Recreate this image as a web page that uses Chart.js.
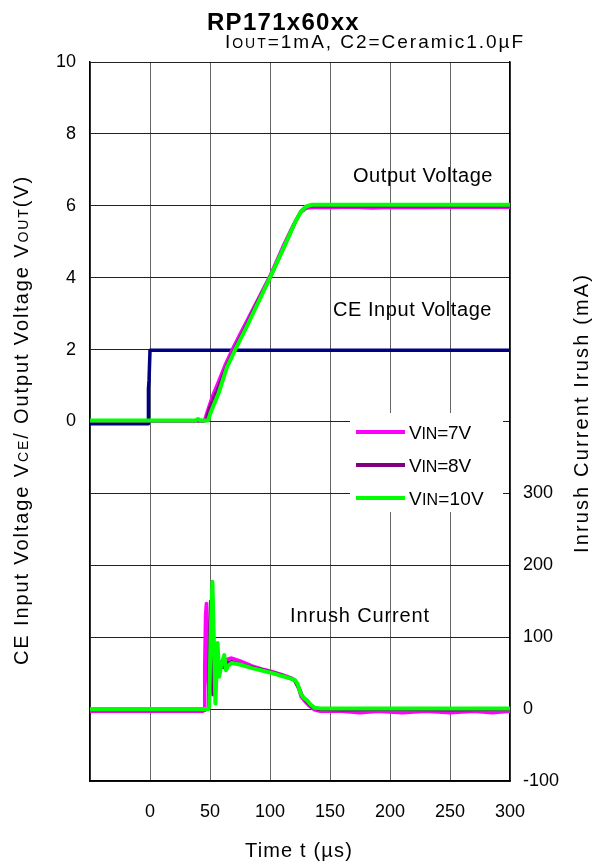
<!DOCTYPE html>
<html>
<head>
<meta charset="utf-8">
<script src="https://cdn.jsdelivr.net/npm/chart.js@4.4.1/dist/chart.umd.min.js"></script>
<style>
  html, body { margin: 0; padding: 0; background: #fff; }
  #wrap { width: 597px; height: 863px; }
</style>
</head>
<body>
<div id="wrap"><canvas id="chart" width="597" height="863"></canvas></div>
<script>
// time axis (us)
const timeMin = -50, timeMax = 300, timeStep = 50;
// left axis (V), right axis (mA)
const voltMin = -10, voltMax = 10, voltStep = 2;
const currMin = -100, currMax = 900, currStep = 100;
const currLabelMax = 300;

// CE input voltage
const ceTime = [-50, -1.5, -1.3, -0.8, 0, 300];
const ceVolt = [-0.06, -0.06, 0.9, 1.15, 1.98, 1.98];

// output voltage, VIN=7V / 8V / 10V
const vout7Time = [-50, 44, 45.6, 48, 52, 57, 63, 70, 80, 90, 100, 112, 120, 125, 130, 136, 150, 170, 185, 200, 230, 260, 300];
const vout7 = [0.02, 0.02, 0.05, 0.3, 0.7, 1.1, 1.6, 2.1, 2.75, 3.4, 4.05, 4.95, 5.5, 5.8, 5.93, 5.96, 5.95, 5.97, 5.94, 5.96, 5.95, 5.97, 5.96];
const vout8Time = [-50, 46, 47, 49, 53, 57, 64, 71, 80, 90, 100, 113, 121, 126, 130, 135, 300];
const vout8 = [0.02, 0.02, 0.05, 0.3, 0.65, 0.95, 1.55, 2.05, 2.65, 3.35, 4.0, 4.95, 5.55, 5.85, 5.97, 6.0, 6.0];
const vout10Time = [-50, 38, 40, 42, 48.5, 50, 53, 57, 64, 71, 80, 90, 100, 113, 121, 126, 130, 135, 300];
const vout10 = [0.03, 0.03, 0.07, 0.03, 0.03, 0.2, 0.45, 0.77, 1.5, 2.0, 2.6, 3.3, 4.0, 4.95, 5.55, 5.85, 5.98, 6.03, 6.03];

// inrush current (mA), VIN=7V / 8V / 10V
const irush7Time = [-50, 44, 45, 45.6, 46.3, 47, 47.8, 48.5, 49.5, 50.5, 51.5, 53, 55, 58, 62, 68, 75, 85, 95, 102, 110, 118, 121, 124, 126, 129, 133, 137, 142, 160, 175, 190, 210, 230, 250, 270, 285, 300];
const irush7 = [-3, -3, -2, 60, 130, 147, 100, 40, 20, 55, 70, 50, 62, 60, 68, 71, 67, 60, 55, 52, 48, 43, 39, 28, 17, 11, 4, -1, -3, -3, -5, -3, -5, -3, -5, -3, -5, -3];
const irush8Time = [-50, 47.5, 48.8, 49.8, 50.5, 51.5, 52.5, 53.5, 54.5, 56, 57.5, 59, 61, 64, 68, 80, 95, 110, 120, 124, 127, 131, 135, 140, 160, 200, 250, 300];
const irush8 = [0, 0, 2, 100, 150, 90, 20, 60, 50, 72, 52, 66, 58, 64, 66, 60, 54, 47, 41, 30, 18, 10, 3, 0, -1, 0, -1, 0];
const irush10Time = [-50, 48.5, 49.3, 50.5, 52, 53, 54.5, 56.3, 57.7, 59.5, 61.9, 63.3, 65, 68, 75, 85, 95, 102, 110, 118, 121, 123, 125.5, 128, 131, 134, 137, 142, 160, 200, 250, 300];
const irush10 = [0, 0, 3, 100, 177, 110, 8, 92, 45, 62, 75, 54, 60, 64, 62, 57, 53, 50, 46, 42, 40, 35, 22, 16, 12, 6, 2, 1, 1, 1, 1, 1];

const FONT = '"Liberation Sans", Arial, sans-serif';

function pts(xs, ys) {
    return xs.map((x, i) => ({ x: x, y: ys[i] }));
}

function lineSet(label, xs, ys, color, width, axis) {
    return {
        label: label,
        data: pts(xs, ys),
        yAxisID: axis,
        borderColor: color,
        backgroundColor: color,
        borderWidth: width,
        pointRadius: 0,
        tension: 0,
        borderJoinStyle: 'round',
        borderCapStyle: 'round',
        fill: false
    };
}

// text with mixed sizes, optionally stretched to a given width
function richText(ctx, parts, x, y, opts) {
    const setFont = p => { ctx.font = (p[2] || 'normal') + ' ' + p[1] + 'px ' + FONT; };
    ctx.letterSpacing = '0px';
    let natural = 0, chars = 0;
    parts.forEach(p => { setFont(p); natural += ctx.measureText(p[0]).width; chars += p[0].length; });
    const sp = opts.width ? Math.max(-1, (opts.width - natural) / chars) : 0;
    const total = natural + sp * chars;
    let cx = opts.align === 'center' ? x - total / 2 : (opts.align === 'right' ? x - total : x);
    ctx.textAlign = 'left';
    ctx.textBaseline = 'alphabetic';
    ctx.fillStyle = '#000';
    parts.forEach(p => {
        setFont(p);
        ctx.letterSpacing = '0px';
        const w = ctx.measureText(p[0]).width;
        ctx.letterSpacing = sp + 'px';
        ctx.fillText(p[0], cx, y);
        cx += w + sp * p[0].length;
    });
    ctx.letterSpacing = '0px';
}

const textPlugin = {
    id: 'textPlugin',
    afterDraw(chart) {
        const ctx = chart.ctx;
        ctx.save();

        // title + subtitle
        richText(ctx, [['RP171x60xx', 24, 'bold']], 207, 30, { width: 153 });
        richText(ctx, [['I', 19], ['OUT', 14], ['=1mA, C2=Ceramic1.0\u00b5F', 19]], 225, 48, { width: 300 });

        // curve labels
        richText(ctx, [['Output Voltage', 20]], 353, 182, { width: 140 });
        richText(ctx, [['CE Input Voltage', 20]], 333, 316, { width: 159 });
        richText(ctx, [['Inrush Current', 20]], 290, 622, { width: 140 });

        // axis titles
        richText(ctx, [['Time t (\u00b5s)', 20]], 245, 857, { width: 108 });

        ctx.save();
        ctx.translate(28, 420);
        ctx.rotate(-Math.PI / 2);
        richText(ctx, [['CE Input Voltage V', 20], ['CE', 14], ['/ Output Voltage V', 20], ['OUT', 14], ['(V)', 20]], 0, 0, { align: 'center', width: 490 });
        ctx.restore();

        ctx.save();
        ctx.translate(588, 413);
        ctx.rotate(-Math.PI / 2);
        richText(ctx, [['Inrush Current Irush (mA)', 20]], 0, 0, { align: 'center', width: 280 });
        ctx.restore();

        // legend box
        ctx.fillStyle = '#fff';
        ctx.fillRect(350, 413, 153, 99);
        const legendRows = [
            { color: '#ff00ff', parts: [['V', 19], ['IN', 16], ['=7V', 19]], w: 62 },
            { color: '#800080', parts: [['V', 19], ['IN', 16], ['=8V', 19]], w: 62 },
            { color: '#00ff00', parts: [['V', 19], ['IN', 16], ['=10V', 19]], w: 75 }
        ];
        legendRows.forEach((row, i) => {
            const y = 432 + i * 33;
            ctx.strokeStyle = row.color;
            ctx.lineWidth = 4;
            ctx.beginPath();
            ctx.moveTo(356, y);
            ctx.lineTo(405, y);
            ctx.stroke();
            richText(ctx, row.parts, 409, y + 7, { width: row.w });
        });

        ctx.restore();
    }
};

Chart.defaults.font.family = FONT;
Chart.defaults.font.size = 18;
Chart.defaults.color = '#000';

new Chart(document.getElementById('chart'), {
    type: 'line',
    data: {
        datasets: [
            lineSet('VIN=10V', vout10Time, vout10, '#00ff00', 4, 'yV'),
            lineSet('VIN=10V', irush10Time, irush10, '#00ff00', 4, 'yI'),
            lineSet('VIN=8V', vout8Time, vout8, '#800080', 3.5, 'yV'),
            lineSet('VIN=8V', irush8Time, irush8, '#800080', 3.5, 'yI'),
            lineSet('VIN=7V', vout7Time, vout7, '#ff00ff', 3.5, 'yV'),
            lineSet('VIN=7V', irush7Time, irush7, '#ff00ff', 3.5, 'yI'),
            lineSet('CE', ceTime, ceVolt, '#000080', 3.5, 'yV')
        ]
    },
    options: {
        responsive: false,
        animation: false,
        events: [],
        layout: { padding: { top: 62, left: 0, right: 0, bottom: 0 } },
        plugins: {
            legend: { display: false },
            title: { display: false },
            tooltip: { enabled: false }
        },
        scales: {
            x: {
                type: 'linear',
                min: timeMin,
                max: timeMax,
                ticks: {
                    stepSize: timeStep,
                    padding: 20,
                    maxRotation: 0,
                    callback: v => (v < 0 ? '' : v)
                },
                grid: { color: '#666', lineWidth: 1, drawTicks: false },
                border: { display: true, color: '#000', width: 1.5 },
                afterFit: scale => { scale.height = 82; }
            },
            yV: {
                position: 'left',
                min: voltMin,
                max: voltMax,
                ticks: {
                    stepSize: voltStep,
                    padding: 14,
                    callback: v => (v < 0 ? '' : v)
                },
                grid: { color: '#222', lineWidth: 1, drawTicks: false },
                border: { display: true, color: '#000', width: 1.5 },
                afterFit: scale => { scale.width = 90; }
            },
            yI: {
                position: 'right',
                min: currMin,
                max: currMax,
                ticks: {
                    stepSize: currStep,
                    padding: 13,
                    callback: v => (v <= currLabelMax ? v : '')
                },
                grid: { drawOnChartArea: false, drawTicks: false },
                border: { display: true, color: '#000', width: 1.5 },
                afterFit: scale => { scale.width = 87; }
            }
        }
    },
    plugins: [textPlugin]
});
</script>
</body>
</html>
